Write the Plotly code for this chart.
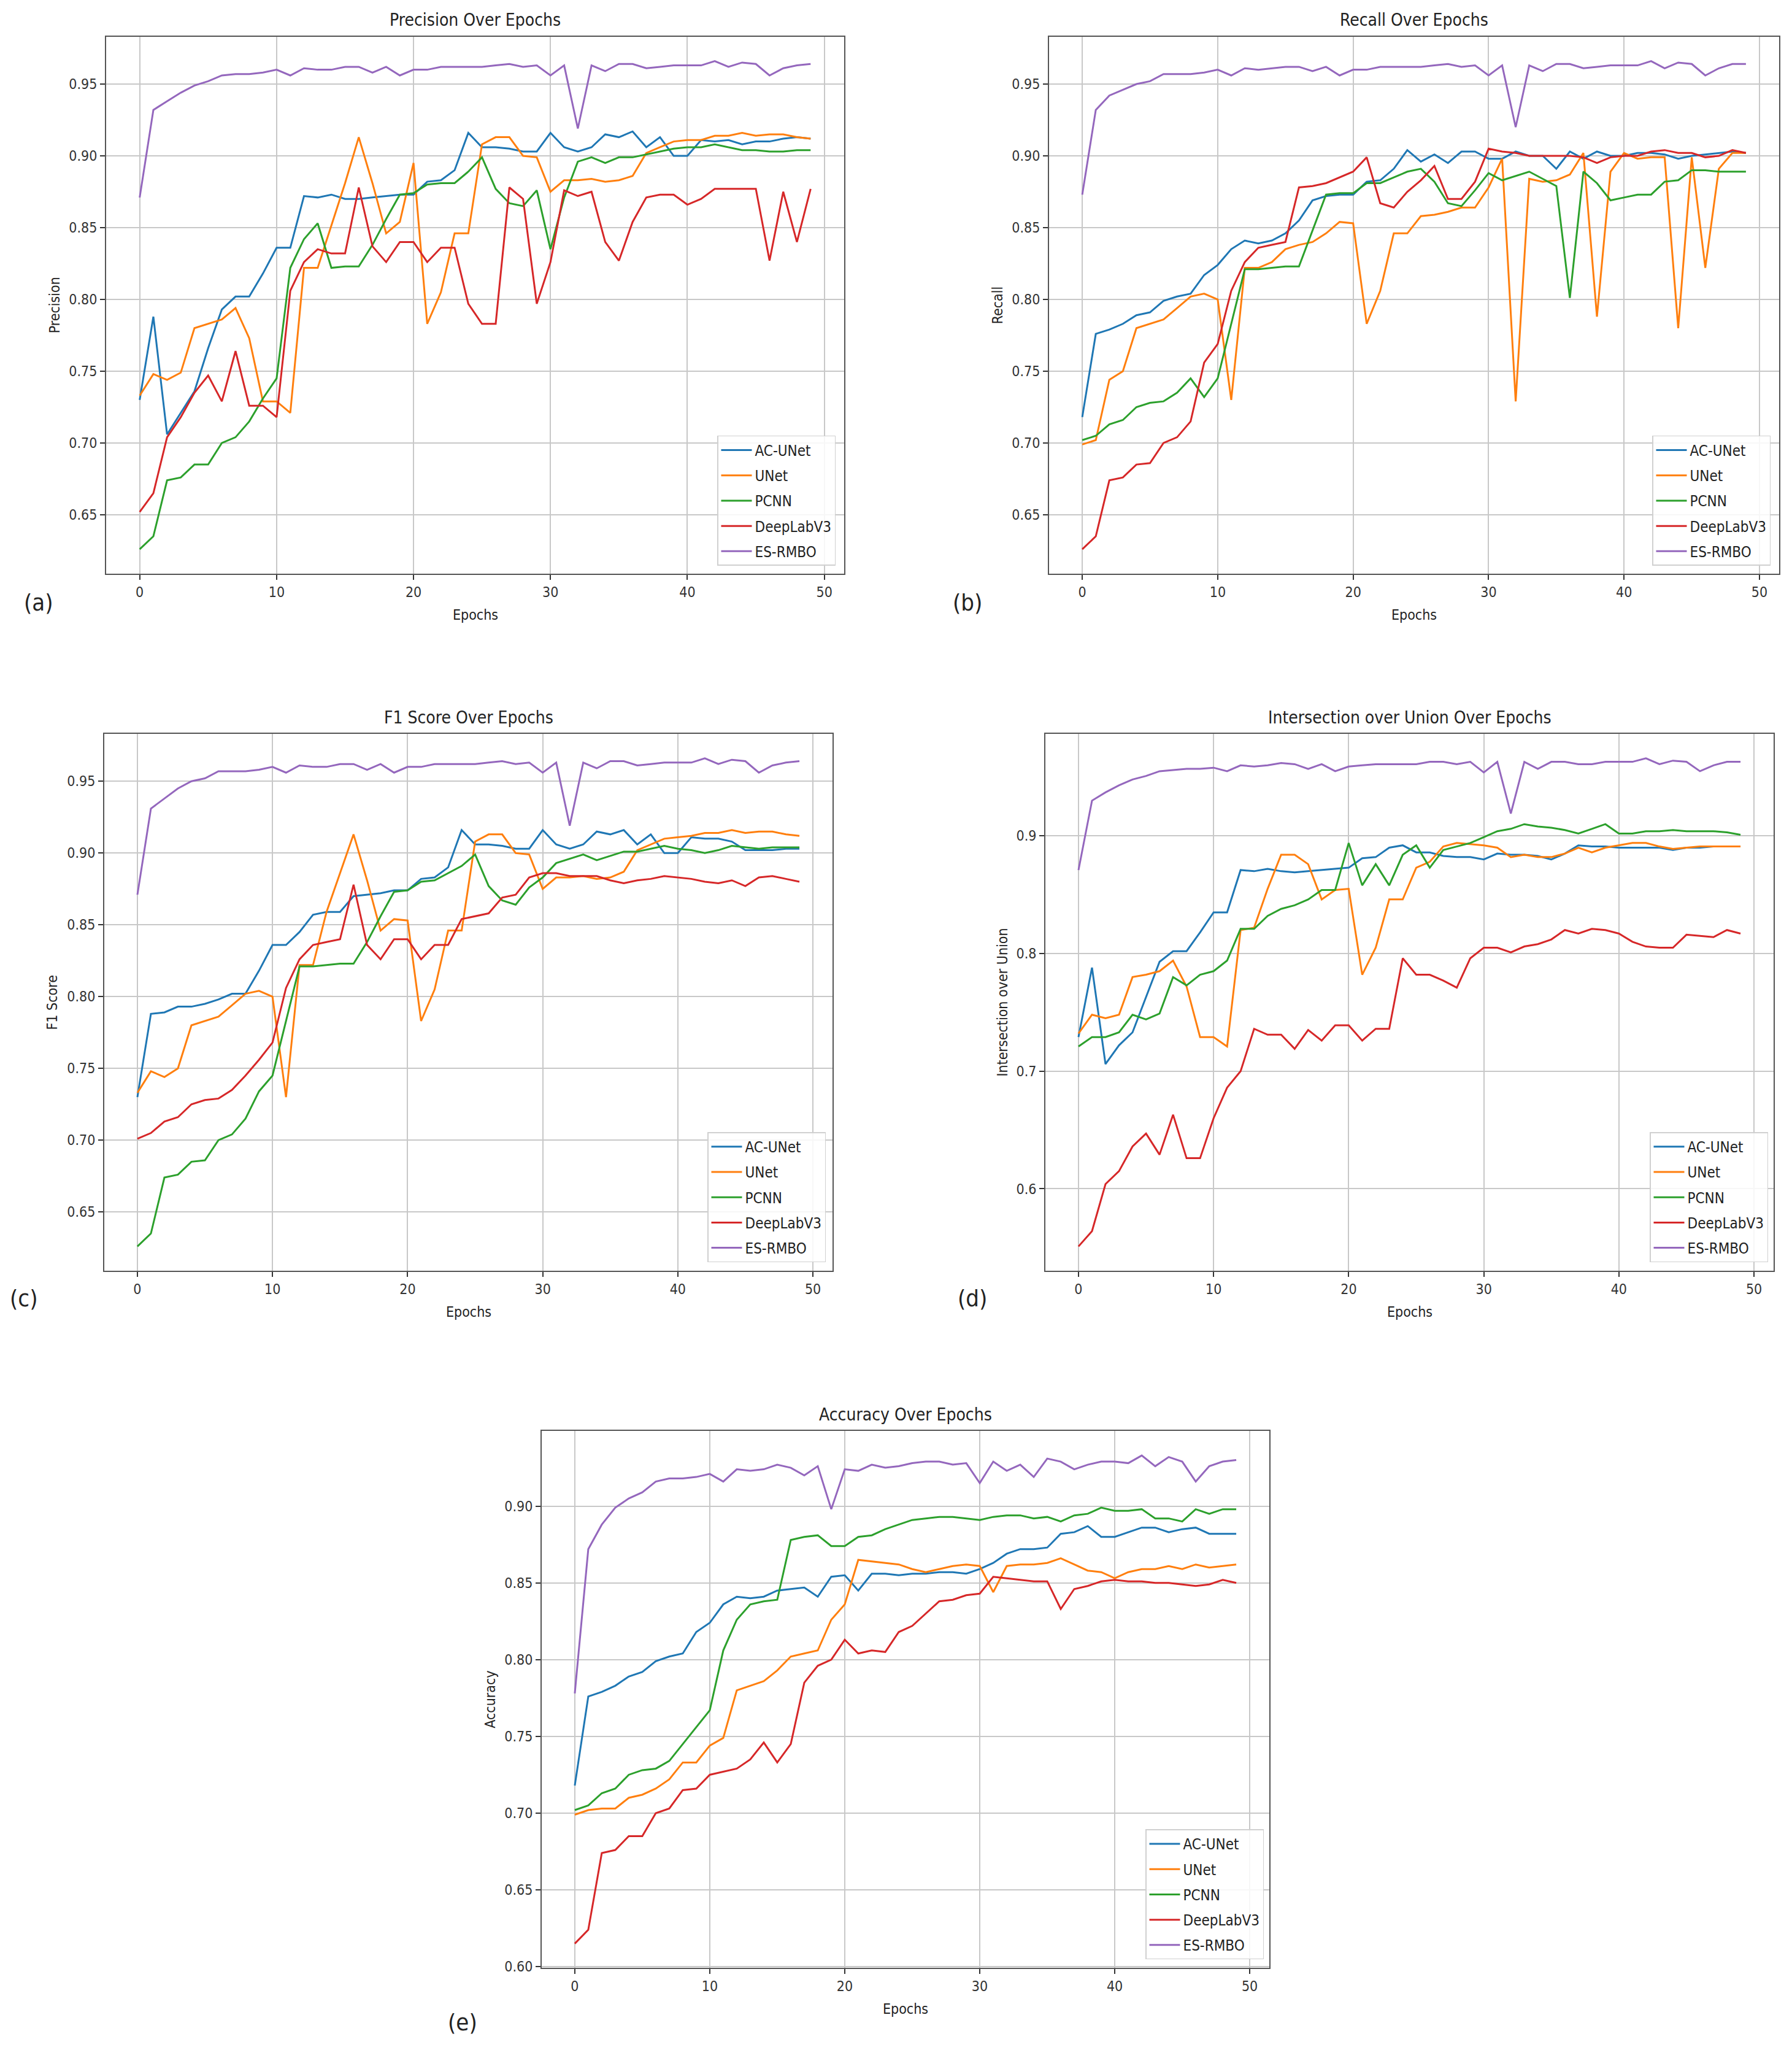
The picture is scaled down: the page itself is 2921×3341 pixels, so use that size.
import plotly.graph_objects as go

W, H = 2921, 3341
FONT = "Liberation Sans Narrow, DejaVu Sans Condensed, Arial Narrow, sans-serif"

epochs = list(range(50))
models = ["AC-UNet", "UNet", "PCNN", "DeepLabV3", "ES-RMBO"]
colors = ["#1f77b4", "#ff7f0e", "#2ca02c", "#d62728", "#9467bd"]

# (a) precision
prec_acunet = [0.730, 0.788, 0.706, 0.721, 0.736, 0.766, 0.793, 0.802, 0.802, 0.818, 0.836, 0.836, 0.872, 0.871, 0.873, 0.870, 0.870, 0.871, 0.872, 0.873,
               0.873, 0.882, 0.883, 0.890, 0.916, 0.906, 0.906, 0.905, 0.903, 0.903, 0.916, 0.906, 0.903, 0.906, 0.915, 0.913, 0.917, 0.906, 0.913, 0.900,
               0.900, 0.911, 0.910, 0.911, 0.908, 0.910, 0.910, 0.912, 0.913, 0.912]
prec_unet = [0.733, 0.748, 0.744, 0.749, 0.780, 0.783, 0.786, 0.794, 0.773, 0.729, 0.729, 0.721, 0.822, 0.822, 0.851, 0.881, 0.913, 0.881, 0.846, 0.854,
             0.895, 0.783, 0.805, 0.846, 0.846, 0.908, 0.913, 0.913, 0.900, 0.899, 0.875, 0.883, 0.883, 0.884, 0.882, 0.883, 0.886, 0.902, 0.906, 0.910,
             0.911, 0.911, 0.914, 0.914, 0.916, 0.914, 0.915, 0.915, 0.913, 0.912]
prec_pcnn = [0.626, 0.635, 0.674, 0.676, 0.685, 0.685, 0.700, 0.704, 0.715, 0.731, 0.745, 0.822, 0.842, 0.853, 0.822, 0.823, 0.823, 0.838, 0.856, 0.873,
             0.874, 0.880, 0.881, 0.881, 0.889, 0.899, 0.877, 0.867, 0.865, 0.876, 0.835, 0.871, 0.896, 0.899, 0.895, 0.899, 0.899, 0.901, 0.903, 0.905,
             0.906, 0.906, 0.908, 0.906, 0.904, 0.904, 0.903, 0.903, 0.904, 0.904]
prec_deeplab = [0.652, 0.665, 0.704, 0.718, 0.735, 0.747, 0.729, 0.764, 0.726, 0.726, 0.718, 0.806, 0.826, 0.835, 0.832, 0.832, 0.878, 0.837, 0.826, 0.840,
                0.840, 0.826, 0.836, 0.836, 0.797, 0.783, 0.783, 0.878, 0.870, 0.797, 0.826, 0.876, 0.872, 0.875, 0.840, 0.827, 0.854, 0.871, 0.873, 0.873,
                0.866, 0.870, 0.877, 0.877, 0.877, 0.877, 0.827, 0.875, 0.840, 0.877]
prec_esrmbo = [0.871, 0.932, 0.938, 0.944, 0.949, 0.952, 0.956, 0.957, 0.957, 0.958, 0.960, 0.956, 0.961, 0.960, 0.960, 0.962, 0.962, 0.958, 0.962, 0.956,
               0.960, 0.960, 0.962, 0.962, 0.962, 0.962, 0.963, 0.964, 0.962, 0.963, 0.956, 0.963, 0.919, 0.963, 0.959, 0.964, 0.964, 0.961, 0.962, 0.963,
               0.963, 0.963, 0.966, 0.962, 0.965, 0.964, 0.956, 0.961, 0.963, 0.964]

# (b) recall
rec_acunet = [0.718, 0.776, 0.779, 0.783, 0.789, 0.791, 0.799, 0.802, 0.804, 0.817, 0.824, 0.835, 0.841, 0.839, 0.841, 0.846, 0.855, 0.869, 0.872, 0.873,
              0.873, 0.882, 0.883, 0.891, 0.904, 0.896, 0.901, 0.895, 0.903, 0.903, 0.898, 0.898, 0.903, 0.900, 0.900, 0.891, 0.903, 0.898, 0.903, 0.900,
              0.900, 0.902, 0.902, 0.901, 0.898, 0.900, 0.901, 0.902, 0.903, 0.902]
rec_unet = [0.699, 0.702, 0.744, 0.750, 0.780, 0.783, 0.786, 0.794, 0.802, 0.804, 0.800, 0.730, 0.822, 0.822, 0.826, 0.835, 0.838, 0.840, 0.846, 0.854,
            0.853, 0.783, 0.806, 0.846, 0.846, 0.858, 0.859, 0.861, 0.864, 0.864, 0.878, 0.898, 0.729, 0.884, 0.882, 0.883, 0.887, 0.902, 0.788, 0.889,
            0.902, 0.898, 0.899, 0.899, 0.780, 0.899, 0.822, 0.891, 0.902, 0.902]
rec_pcnn = [0.702, 0.705, 0.713, 0.716, 0.725, 0.728, 0.729, 0.735, 0.745, 0.732, 0.745, 0.783, 0.821, 0.821, 0.822, 0.823, 0.823, 0.848, 0.873, 0.874,
            0.874, 0.881, 0.881, 0.885, 0.889, 0.891, 0.882, 0.867, 0.865, 0.876, 0.888, 0.883, 0.886, 0.889, 0.884, 0.879, 0.801, 0.889, 0.881, 0.869,
            0.871, 0.873, 0.873, 0.882, 0.883, 0.890, 0.890, 0.889, 0.889, 0.889]
rec_deeplab = [0.626, 0.635, 0.674, 0.676, 0.685, 0.686, 0.700, 0.704, 0.715, 0.756, 0.769, 0.806, 0.826, 0.836, 0.838, 0.840, 0.878, 0.879, 0.881, 0.885,
               0.889, 0.899, 0.867, 0.864, 0.875, 0.883, 0.893, 0.870, 0.870, 0.882, 0.905, 0.903, 0.902, 0.900, 0.900, 0.900, 0.900, 0.899, 0.895, 0.899,
               0.900, 0.900, 0.903, 0.904, 0.902, 0.902, 0.899, 0.900, 0.904, 0.902]
rec_esrmbo = [0.873, 0.932, 0.942, 0.946, 0.950, 0.952, 0.957, 0.957, 0.957, 0.958, 0.960, 0.956, 0.961, 0.960, 0.961, 0.962, 0.962, 0.959, 0.962, 0.956,
              0.960, 0.960, 0.962, 0.962, 0.962, 0.962, 0.963, 0.964, 0.962, 0.963, 0.956, 0.963, 0.920, 0.963, 0.959, 0.964, 0.964, 0.961, 0.962, 0.963,
              0.963, 0.963, 0.966, 0.961, 0.965, 0.964, 0.956, 0.961, 0.964, 0.964]

# (c) F1 score
f1_acunet = [0.730, 0.788, 0.789, 0.793, 0.793, 0.795, 0.798, 0.802, 0.802, 0.818, 0.836, 0.836, 0.845, 0.857, 0.859, 0.859, 0.870, 0.871, 0.872, 0.874,
             0.874, 0.882, 0.883, 0.890, 0.916, 0.906, 0.906, 0.905, 0.903, 0.903, 0.916, 0.906, 0.903, 0.906, 0.915, 0.913, 0.916, 0.906, 0.913, 0.900,
             0.900, 0.911, 0.910, 0.910, 0.908, 0.902, 0.902, 0.902, 0.903, 0.903]
f1_unet = [0.733, 0.748, 0.744, 0.750, 0.780, 0.783, 0.786, 0.794, 0.802, 0.804, 0.800, 0.730, 0.822, 0.822, 0.859, 0.886, 0.913, 0.881, 0.846, 0.854,
           0.853, 0.783, 0.805, 0.846, 0.846, 0.908, 0.913, 0.913, 0.900, 0.899, 0.875, 0.883, 0.883, 0.884, 0.882, 0.883, 0.887, 0.902, 0.906, 0.910,
           0.911, 0.912, 0.914, 0.914, 0.916, 0.914, 0.915, 0.915, 0.913, 0.912]
f1_pcnn = [0.626, 0.635, 0.674, 0.676, 0.685, 0.686, 0.700, 0.704, 0.715, 0.734, 0.745, 0.783, 0.821, 0.821, 0.822, 0.823, 0.823, 0.838, 0.856, 0.873,
           0.874, 0.880, 0.881, 0.886, 0.891, 0.899, 0.877, 0.867, 0.864, 0.876, 0.883, 0.893, 0.896, 0.899, 0.895, 0.898, 0.901, 0.901, 0.903, 0.905,
           0.903, 0.902, 0.900, 0.902, 0.905, 0.904, 0.903, 0.904, 0.904, 0.904]
f1_deeplab = [0.701, 0.705, 0.713, 0.716, 0.725, 0.728, 0.729, 0.735, 0.745, 0.756, 0.768, 0.806, 0.826, 0.836, 0.838, 0.840, 0.878, 0.836, 0.826, 0.840,
              0.840, 0.826, 0.836, 0.836, 0.854, 0.856, 0.858, 0.869, 0.871, 0.883, 0.886, 0.886, 0.884, 0.884, 0.884, 0.881, 0.879, 0.881, 0.882, 0.884,
              0.883, 0.882, 0.880, 0.879, 0.881, 0.877, 0.883, 0.884, 0.882, 0.880]
f1_esrmbo = [0.871, 0.931, 0.938, 0.945, 0.950, 0.952, 0.957, 0.957, 0.957, 0.958, 0.960, 0.956, 0.961, 0.960, 0.960, 0.962, 0.962, 0.958, 0.962, 0.956,
             0.960, 0.960, 0.962, 0.962, 0.962, 0.962, 0.963, 0.964, 0.962, 0.963, 0.956, 0.963, 0.919, 0.963, 0.959, 0.964, 0.964, 0.961, 0.962, 0.963,
             0.963, 0.963, 0.966, 0.962, 0.965, 0.964, 0.956, 0.961, 0.963, 0.964]

# (d) intersection over union
iou_acunet = [0.729, 0.788, 0.706, 0.722, 0.733, 0.763, 0.793, 0.802, 0.802, 0.818, 0.835, 0.835, 0.871, 0.870, 0.872, 0.870, 0.869, 0.870, 0.871, 0.872,
              0.873, 0.881, 0.882, 0.890, 0.892, 0.886, 0.886, 0.883, 0.882, 0.882, 0.880, 0.885, 0.884, 0.884, 0.883, 0.880, 0.885, 0.892, 0.891, 0.891,
              0.890, 0.890, 0.890, 0.890, 0.888, 0.890, 0.890, 0.891, 0.891, 0.891]
iou_unet = [0.732, 0.748, 0.745, 0.748, 0.780, 0.782, 0.785, 0.794, 0.772, 0.729, 0.729, 0.721, 0.820, 0.822, 0.855, 0.884, 0.884, 0.876, 0.846, 0.854,
            0.855, 0.782, 0.805, 0.846, 0.846, 0.873, 0.878, 0.891, 0.894, 0.893, 0.892, 0.890, 0.882, 0.884, 0.882, 0.882, 0.885, 0.890, 0.886, 0.890,
            0.892, 0.894, 0.894, 0.891, 0.889, 0.890, 0.891, 0.891, 0.891, 0.891]
iou_pcnn = [0.721, 0.729, 0.729, 0.733, 0.748, 0.744, 0.749, 0.780, 0.773, 0.782, 0.785, 0.794, 0.821, 0.821, 0.832, 0.838, 0.841, 0.846, 0.854, 0.854,
            0.894, 0.858, 0.876, 0.858, 0.884, 0.892, 0.873, 0.888, 0.891, 0.894, 0.899, 0.904, 0.906, 0.910, 0.908, 0.907, 0.905, 0.902, 0.906, 0.910,
            0.902, 0.902, 0.904, 0.904, 0.905, 0.904, 0.904, 0.904, 0.903, 0.901]
iou_deeplab = [0.551, 0.564, 0.604, 0.615, 0.636, 0.647, 0.629, 0.663, 0.626, 0.626, 0.660, 0.686, 0.700, 0.736, 0.731, 0.731, 0.719, 0.735, 0.726, 0.739,
               0.739, 0.726, 0.736, 0.736, 0.796, 0.782, 0.782, 0.777, 0.771, 0.796, 0.805, 0.805, 0.801, 0.806, 0.808, 0.812, 0.820, 0.817, 0.821, 0.820,
               0.817, 0.810, 0.806, 0.805, 0.805, 0.816, 0.815, 0.814, 0.820, 0.817]
iou_esrmbo = [0.871, 0.930, 0.937, 0.943, 0.948, 0.951, 0.955, 0.956, 0.957, 0.957, 0.958, 0.955, 0.960, 0.959, 0.960, 0.962, 0.961, 0.957, 0.961, 0.955,
              0.959, 0.960, 0.961, 0.961, 0.961, 0.961, 0.963, 0.963, 0.961, 0.963, 0.954, 0.963, 0.919, 0.963, 0.957, 0.963, 0.963, 0.961, 0.961, 0.963,
              0.963, 0.963, 0.966, 0.961, 0.964, 0.963, 0.955, 0.960, 0.963, 0.963]

# (e) accuracy
acc_acunet = [0.718, 0.776, 0.779, 0.783, 0.789, 0.792, 0.799, 0.802, 0.804, 0.818, 0.824, 0.836, 0.841, 0.840, 0.841, 0.845, 0.846, 0.847, 0.841, 0.854,
              0.855, 0.845, 0.856, 0.856, 0.855, 0.856, 0.856, 0.857, 0.857, 0.856, 0.859, 0.863, 0.869, 0.872, 0.872, 0.873, 0.882, 0.883, 0.887, 0.880,
              0.880, 0.883, 0.886, 0.886, 0.883, 0.885, 0.886, 0.882, 0.882, 0.882]
acc_unet = [0.699, 0.702, 0.703, 0.703, 0.710, 0.712, 0.716, 0.722, 0.733, 0.733, 0.744, 0.749, 0.780, 0.783, 0.786, 0.793, 0.802, 0.804, 0.806, 0.826,
            0.836, 0.865, 0.864, 0.863, 0.862, 0.859, 0.857, 0.859, 0.861, 0.862, 0.861, 0.844, 0.861, 0.862, 0.862, 0.863, 0.866, 0.862, 0.858, 0.857,
            0.853, 0.857, 0.859, 0.859, 0.861, 0.859, 0.862, 0.860, 0.861, 0.862]
acc_pcnn = [0.702, 0.705, 0.713, 0.716, 0.725, 0.728, 0.729, 0.734, 0.745, 0.756, 0.767, 0.806, 0.826, 0.836, 0.838, 0.839, 0.878, 0.880, 0.881, 0.874,
            0.874, 0.880, 0.881, 0.885, 0.888, 0.891, 0.892, 0.893, 0.893, 0.892, 0.891, 0.893, 0.894, 0.894, 0.892, 0.893, 0.890, 0.894, 0.895, 0.899,
            0.897, 0.897, 0.898, 0.892, 0.892, 0.890, 0.898, 0.895, 0.898, 0.898]
acc_deeplab = [0.615, 0.624, 0.674, 0.676, 0.685, 0.685, 0.700, 0.703, 0.715, 0.716, 0.725, 0.727, 0.729, 0.735, 0.746, 0.733, 0.745, 0.785, 0.796, 0.800,
               0.813, 0.804, 0.806, 0.805, 0.818, 0.822, 0.830, 0.838, 0.839, 0.842, 0.843, 0.854, 0.853, 0.852, 0.851, 0.851, 0.833, 0.846, 0.848, 0.851,
               0.852, 0.851, 0.851, 0.850, 0.850, 0.849, 0.848, 0.849, 0.852, 0.850]
acc_esrmbo = [0.778, 0.872, 0.888, 0.899, 0.905, 0.909, 0.916, 0.918, 0.918, 0.919, 0.921, 0.916, 0.924, 0.923, 0.924, 0.927, 0.925, 0.920, 0.926, 0.898,
              0.924, 0.923, 0.927, 0.925, 0.926, 0.928, 0.929, 0.929, 0.927, 0.928, 0.915, 0.929, 0.923, 0.927, 0.919, 0.931, 0.929, 0.924, 0.927, 0.929,
              0.929, 0.928, 0.933, 0.926, 0.932, 0.929, 0.916, 0.926, 0.929, 0.930]

DY = 7  # small vertical nudge for the whole layout


def px(x):
    return x / W


def py(y):
    return 1 - (y + DY) / H


# pixel boxes of each panel: left, right, top, bottom, y-label x, legend right/bottom, tag position
panels = [
    dict(tag="(a)", title="Precision Over Epochs", ylab="Precision",
         series=[prec_acunet, prec_unet, prec_pcnn, prec_deeplab, prec_esrmbo],
         box=(173, 1376, 53, 931), ylab_x=89, leg=(1362, 918), tagpos=(63, 978), dtick=0.05, fmt=".2f"),
    dict(tag="(b)", title="Recall Over Epochs", ylab="Recall",
         series=[rec_acunet, rec_unet, rec_pcnn, rec_deeplab, rec_esrmbo],
         box=(1710, 2900, 53, 931), ylab_x=1626, leg=(2886, 918), tagpos=(1577, 978), dtick=0.05, fmt=".2f"),
    dict(tag="(c)", title="F1 Score Over Epochs", ylab="F1 Score",
         series=[f1_acunet, f1_unet, f1_pcnn, f1_deeplab, f1_esrmbo],
         box=(170, 1357, 1193, 2071), ylab_x=85, leg=(1346, 2057), tagpos=(38, 2116), dtick=0.05, fmt=".2f"),
    dict(tag="(d)", title="Intersection over Union Over Epochs", ylab="Intersection over Union",
         series=[iou_acunet, iou_unet, iou_pcnn, iou_deeplab, iou_esrmbo],
         box=(1704, 2891, 1193, 2071), ylab_x=1634, leg=(2882, 2057), tagpos=(1585, 2116), dtick=0.1, fmt=".1f"),
    dict(tag="(e)", title="Accuracy Over Epochs", ylab="Accuracy",
         series=[acc_acunet, acc_unet, acc_pcnn, acc_deeplab, acc_esrmbo],
         box=(883, 2069, 2333, 3211), ylab_x=799, leg=(2060, 3197), tagpos=(754, 3300), dtick=0.05, fmt=".2f"),
]

fig = go.Figure()
layout = dict(width=W, height=H, margin=dict(l=0, r=0, t=0, b=0),
              paper_bgcolor="white", plot_bgcolor="white",
              font=dict(family=FONT, color="#222222"), showlegend=True)
annotations = []


def label(text, x, y, size, angle=0):
    return dict(text=text, x=px(x), y=py(y), xref="paper", yref="paper", showarrow=False,
                xanchor="center", yanchor="middle", textangle=angle,
                font=dict(family=FONT, size=size, color="#222222"))


for i, p in enumerate(panels):
    n = "" if i == 0 else str(i + 1)
    leg_name = "legend" + n
    for name, color, vals in zip(models, colors, p["series"]):
        fig.add_trace(go.Scatter(x=epochs, y=vals, mode="lines", name=name,
                                 line=dict(color=color, width=3),
                                 xaxis="x" + n, yaxis="y" + n, legend=leg_name,
                                 legendgroup=p["tag"] + name))
    left, right, top, bottom = p["box"]
    allv = [v for s in p["series"] for v in s]
    lo, hi = min(allv), max(allv)
    pad = 0.05 * (hi - lo)
    axis_common = dict(showline=True, mirror=True, linecolor="#555555", linewidth=2,
                       showgrid=True, gridcolor="#c8c8c8", gridwidth=1.5, zeroline=False,
                       ticks="outside", ticklen=8, tickwidth=2, tickcolor="#333333",
                       tickfont=dict(family=FONT, size=23, color="#333333"))
    layout["xaxis" + n] = dict(axis_common, domain=[px(left), px(right)], anchor="y" + n,
                               range=[-2.45, 51.45], tick0=0, dtick=10)
    layout["yaxis" + n] = dict(axis_common, domain=[py(bottom), py(top)], anchor="x" + n,
                               range=[lo - pad, hi + pad], tick0=0, dtick=p["dtick"], tickformat=p["fmt"])
    lr, lb = p["leg"]
    layout[leg_name] = dict(x=px(lr), y=py(lb), xanchor="right", yanchor="bottom",
                            bgcolor="rgba(255,255,255,0.85)", bordercolor="#d0d0d0", borderwidth=1.5,
                            font=dict(family=FONT, size=24, color="#222222"), itemwidth=50,
                            traceorder="grouped", tracegroupgap=7)
    cx = (left + right) / 2
    annotations.append(label(p["title"], cx, top - 27, 28))
    annotations.append(label("Epochs", cx, bottom + 67, 23))
    annotations.append(label(p["ylab"], p["ylab_x"], (top + bottom) / 2, 23, angle=-90))
    tx, ty = p["tagpos"]
    annotations.append(label(p["tag"], tx, ty, 38))

layout["annotations"] = annotations
fig.update_layout(**layout)
fig.write_html("out.html", config={"displayModeBar": False},
               post_script="document.body.style.margin='0px';")
